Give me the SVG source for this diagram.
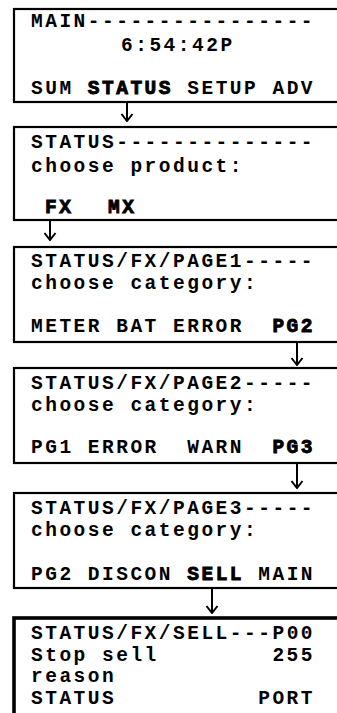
<svg xmlns="http://www.w3.org/2000/svg" width="337" height="713" viewBox="0 0 337 713">
<style>
.box{fill:#fff;stroke:#000;stroke-width:2.2}
.box6{fill:#fff;stroke:#000;stroke-width:3.6}
text{font-family:"Liberation Mono","DejaVu Sans Mono",monospace;font-size:19.5px;font-weight:bold;letter-spacing:2.5px;fill:#000}
.em{stroke:#000;stroke-width:0.9}
.conn{stroke:#000;stroke-width:2;fill:none}
</style>
<defs>
<marker id="ah" markerUnits="userSpaceOnUse" viewBox="0 0 14 10" refX="7" refY="9" markerWidth="14" markerHeight="10" orient="0">
<path d="M1.5,2 L7,9 L12.5,2" fill="none" stroke="#000" stroke-width="2"/>
</marker>
</defs>
<rect width="337" height="713" fill="#fff"/>
<g id="connectors">
<line class="conn" x1="127" y1="103" x2="127" y2="121" marker-end="url(#ah)"/>
<line class="conn" x1="50" y1="221" x2="50" y2="240" marker-end="url(#ah)"/>
<line class="conn" x1="297" y1="343" x2="297" y2="365" marker-end="url(#ah)"/>
<line class="conn" x1="297" y1="464" x2="297" y2="488" marker-end="url(#ah)"/>
<line class="conn" x1="212" y1="589" x2="212" y2="613" marker-end="url(#ah)"/>
</g>
<g id="main">
<rect class="box" x="14" y="9" width="340" height="93"/>
<text x="31" y="27">MAIN----------------</text>
<text x="121" y="51">6:54:42P</text>
<text x="31" y="94">SUM <tspan class="em">STATUS</tspan> SETUP ADV</text>
</g>
<g id="status">
<rect class="box" x="14" y="127" width="340" height="93"/>
<text x="31" y="148">STATUS--------------</text>
<text x="31" y="172">choose product:</text>
<text class="em" x="45" y="213">FX</text>
<text class="em" x="108" y="213">MX</text>
</g>
<g id="page1">
<rect class="box" x="14" y="247" width="340" height="95"/>
<text x="31" y="267">STATUS/FX/PAGE1-----</text>
<text x="31" y="289">choose category:</text>
<text x="31" y="332">METER BAT ERROR</text>
<text class="em" x="272.4" y="332">PG2</text>
</g>
<g id="page2">
<rect class="box" x="14" y="368" width="340" height="95"/>
<text x="31" y="389">STATUS/FX/PAGE2-----</text>
<text x="31" y="411">choose category:</text>
<text x="31" y="453">PG1 ERROR</text>
<text x="187.2" y="453">WARN</text>
<text class="em" x="272.4" y="453">PG3</text>
</g>
<g id="page3">
<rect class="box" x="14" y="493" width="340" height="95"/>
<text x="31" y="514">STATUS/FX/PAGE3-----</text>
<text x="31" y="536">choose category:</text>
<text x="31" y="580">PG2 DISCON <tspan class="em">SELL</tspan> MAIN</text>
</g>
<g id="sell">
<rect class="box6" x="14" y="618" width="340" height="120"/>
<text x="31" y="639">STATUS/FX/SELL---P00</text>
<text x="31" y="661">Stop sell</text>
<text x="272.4" y="661">255</text>
<text x="31" y="682">reason</text>
<text x="31" y="704">STATUS</text>
<text x="258.2" y="704">PORT</text>
</g>
</svg>
